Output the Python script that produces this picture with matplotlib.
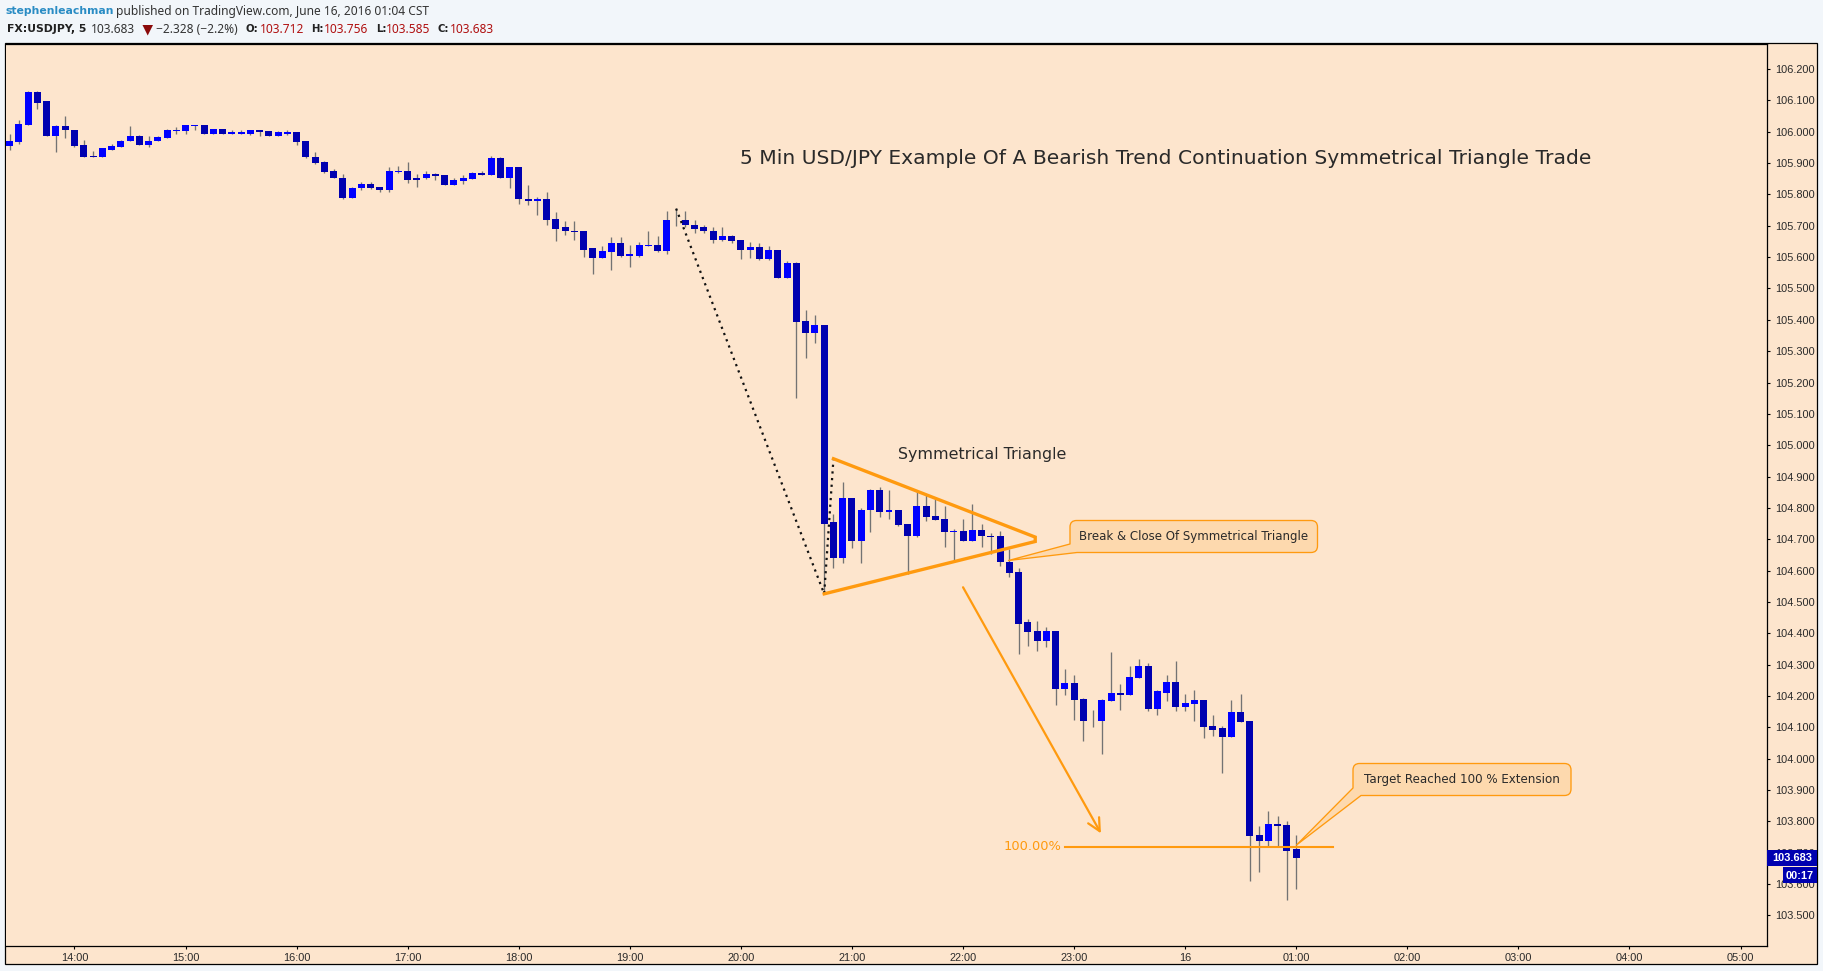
import matplotlib
matplotlib.use("Agg")
import matplotlib.pyplot as plt
from matplotlib.path import Path
from matplotlib.patches import PathPatch, Rectangle, Polygon

opens = [105.956,105.966,106.023,106.128,106.097,105.988,106.017,106.007,105.959,105.923,
 105.921,105.943,105.950,105.969,105.988,105.959,105.969,105.979,106.001,106.001,
 106.017,106.023,105.994,106.010,105.994,105.994,105.994,106.007,106.001,105.988,
 105.994,105.998,105.969,105.921,105.902,105.876,105.854,105.790,105.819,105.832,
 105.825,105.813,105.873,105.876,105.854,105.851,105.864,105.861,105.829,105.842,
 105.848,105.870,105.861,105.915,105.851,105.889,105.787,105.778,105.784,105.723,
 105.695,105.685,105.682,105.628,105.596,105.618,105.644,105.605,105.605,105.637,
 105.640,105.621,105.720,105.720,105.704,105.695,105.685,105.656,105.669,105.656,
 105.624,105.631,105.593,105.624,105.535,105.580,105.395,105.357,105.385,104.754,
 104.639,104.833,104.696,104.792,104.856,104.786,104.795,104.750,104.712,104.805,
 104.773,104.766,104.722,104.728,104.696,104.731,104.712,104.709,104.629,104.597,
 104.435,104.406,104.374,104.406,104.224,104.243,104.189,104.122,104.119,104.183,
 104.211,104.202,104.259,104.297,104.160,104.211,104.246,104.164,104.176,104.186,
 104.103,104.097,104.068,104.148,104.119,103.758,103.739,103.793,103.790,103.712]
highs = [105.993,106.036,106.131,106.131,106.097,106.023,106.049,106.007,105.975,105.940,
 105.949,105.962,105.974,106.017,105.991,105.985,105.985,106.009,106.014,106.020,
 106.023,106.023,106.010,106.010,106.007,106.007,106.007,106.007,106.001,106.001,
 106.007,105.998,105.969,105.934,105.908,105.880,105.864,105.825,105.841,105.841,
 105.825,105.886,105.892,105.902,105.864,105.876,105.870,105.861,105.851,105.861,
 105.873,105.876,105.924,105.918,105.889,105.889,105.829,105.793,105.809,105.743,
 105.714,105.714,105.682,105.628,105.637,105.663,105.663,105.640,105.647,105.682,
 105.666,105.746,105.755,105.746,105.720,105.704,105.695,105.695,105.672,105.656,
 105.647,105.644,105.634,105.624,105.589,105.583,105.430,105.414,105.385,104.781,
 104.884,104.833,104.801,104.862,104.868,104.856,104.795,104.750,104.856,104.843,
 104.830,104.805,104.734,104.766,104.814,104.750,104.719,104.725,104.668,104.607,
 104.447,104.438,104.419,104.406,104.285,104.266,104.195,104.154,104.189,104.339,
 104.237,104.297,104.317,104.304,104.218,104.266,104.313,104.208,104.218,104.186,
 104.141,104.106,104.186,104.208,104.119,103.787,103.832,103.816,103.803,103.756]
lows = [105.943,105.962,106.020,106.071,105.988,105.934,105.979,105.950,105.921,105.921,
 105.921,105.943,105.950,105.969,105.959,105.950,105.969,105.979,105.994,105.994,
 106.007,105.994,105.994,105.994,105.994,105.994,105.991,105.988,105.988,105.988,
 105.991,105.959,105.915,105.896,105.870,105.851,105.784,105.790,105.813,105.816,
 105.809,105.809,105.867,105.835,105.825,105.848,105.845,105.829,105.829,105.832,
 105.848,105.861,105.861,105.851,105.822,105.768,105.765,105.736,105.704,105.653,
 105.672,105.656,105.602,105.545,105.596,105.558,105.602,105.570,105.599,105.637,
 105.618,105.609,105.698,105.695,105.676,105.676,105.644,105.653,105.644,105.593,
 105.596,105.590,105.590,105.535,105.535,105.152,105.277,105.325,104.526,104.610,
 104.623,104.671,104.623,104.722,104.770,104.766,104.741,104.590,104.706,104.757,
 104.763,104.674,104.632,104.693,104.696,104.677,104.652,104.616,104.581,104.333,
 104.361,104.345,104.355,104.173,104.202,104.125,104.058,104.100,104.014,104.183,
 104.157,104.202,104.259,104.151,104.138,104.183,104.151,104.151,104.119,104.065,
 104.071,103.953,104.068,104.116,103.610,103.640,103.717,103.720,103.551,103.585]
closes = [105.969,106.026,106.128,106.093,105.988,106.017,106.004,105.956,105.921,105.921,
 105.947,105.953,105.972,105.988,105.959,105.972,105.982,106.004,106.004,106.020,
 106.023,105.994,106.010,105.994,105.998,105.998,106.007,105.998,105.988,105.998,
 105.998,105.966,105.918,105.899,105.873,105.851,105.790,105.822,105.832,105.822,
 105.813,105.876,105.876,105.845,105.845,105.864,105.858,105.829,105.845,105.851,
 105.870,105.861,105.915,105.851,105.889,105.784,105.778,105.784,105.720,105.691,
 105.682,105.679,105.624,105.596,105.621,105.644,105.605,105.609,105.640,105.640,
 105.621,105.720,105.717,105.701,105.691,105.682,105.656,105.669,105.653,105.624,
 105.631,105.593,105.624,105.535,105.580,105.392,105.357,105.385,104.750,104.639,
 104.833,104.696,104.795,104.856,104.786,104.795,104.747,104.712,104.805,104.770,
 104.763,104.722,104.728,104.696,104.731,104.709,104.706,104.626,104.594,104.431,
 104.403,104.374,104.406,104.224,104.243,104.186,104.119,104.119,104.186,104.211,
 104.202,104.262,104.297,104.160,104.215,104.246,104.164,104.179,104.186,104.100,
 104.093,104.068,104.148,104.116,103.755,103.739,103.793,103.787,103.707,103.683]

time_ticks = [7 + 12 * k for k in range(16)]
time_labels = ["14:00","15:00","16:00","17:00","18:00","19:00","20:00","21:00","22:00",
               "23:00","16","01:00","02:00","03:00","04:00","05:00"]
price_ticks = [103.5 + 0.1 * k for k in range(28)]

# drawing anchors (candle index, price)
swing_x = [72, 88, 89]
swing_y = [105.755, 104.526, 104.957]
tri_x = [88, 110.8, 110.8, 89]
tri_y = [104.526, 104.693, 104.707, 104.957]
arrow_from = (103.0, 104.547)
arrow_to = (117.9, 103.762)
target_x = [114, 143]
target_y = [103.719, 103.719]

UP = "#0000ff"
DOWN = "#0000b0"
WICK = "#737373"
ORANGE = "#ff9a0f"
PEACH = "#fde5cd"
CALL = "#fdd9ae"
HEAD = "#f2f6fa"

W, H = 1824, 971
fig = plt.figure(figsize=(W / 100, H / 100), dpi=100, facecolor=HEAD)

back = fig.add_axes([0, 0, 1, 1], zorder=0)
back.set_xlim(0, W); back.set_ylim(H, 0); back.axis("off")
back.add_patch(Rectangle((5.5, 43.5), 1811.5, 920.5, fc=PEACH, ec="black", lw=0.9))

L, R, T, B = 6.0, 1767.0, 43.5, 945.5
ax = fig.add_axes([L / W, 1 - B / H, (R - L) / W, (B - T) / H], zorder=1, facecolor=PEACH)
xs = list(range(len(opens)))
ax.vlines(xs, lows, highs, color=WICK, lw=0.95, zorder=2)
colors = [UP if c >= o else DOWN for o, c in zip(opens, closes)]
ax.bar(xs, [max(abs(c - o), 0.002) for o, c in zip(opens, closes)],
       bottom=[min(o, c) for o, c in zip(opens, closes)],
       width=0.756, color=colors, lw=0, zorder=3)

ax.plot(swing_x, swing_y, color="#111111", lw=1.6, ls=(0, (1, 2)), zorder=4)
ax.plot(tri_x, tri_y, color=ORANGE, lw=2.4, solid_joinstyle="miter", zorder=5)
ax.annotate("", xy=arrow_to, xytext=arrow_from,
            arrowprops=dict(arrowstyle="->,head_length=0.9,head_width=0.45", color=ORANGE,
                            lw=1.6, shrinkA=0, shrinkB=0), zorder=5)
ax.plot(target_x, target_y, color=ORANGE, lw=1.5, zorder=5)

ax.set_xlim(-0.4, 189.86)
ax.set_ylim(103.4043, 106.2815)
ax.set_xticks(time_ticks)
ax.set_xticklabels(time_labels, fontfamily="Liberation Sans", fontsize=7.9, color="#2a2a2a")
ax.yaxis.tick_right()
ax.set_yticks(price_ticks)
ax.set_yticklabels([f"{p:.3f}" for p in price_ticks], fontfamily="Liberation Sans",
                   fontsize=7.9, color="#2a2a2a")
ax.tick_params(axis="x", length=2.5, width=0.8, pad=3)
ax.tick_params(axis="y", length=2.5, width=0.8, pad=3.5)
for s in ax.spines.values():
    s.set_linewidth(0.9); s.set_color("black")
ax.spines["left"].set_visible(False)


def py(p):
    return B - (p - 103.4043) / (106.2815 - 103.4043) * (B - T)


over = fig.add_axes([0, 0, 1, 1], zorder=2)
over.patch.set_alpha(0)
over.set_xlim(0, W); over.set_ylim(H, 0); over.axis("off")


def callout(x0, y0, x1, y1, tip, j1, j2, r=6.5):
    verts = [(x0, y0 + r), (x0, y0), (x0 + r, y0), (x1 - r, y0), (x1, y0), (x1, y0 + r),
             (x1, y1 - r), (x1, y1), (x1 - r, y1), j2, tip, j1, (x0, y0 + r)]
    codes = [Path.MOVETO, Path.CURVE3, Path.CURVE3, Path.LINETO, Path.CURVE3, Path.CURVE3,
             Path.LINETO, Path.CURVE3, Path.CURVE3, Path.LINETO, Path.LINETO, Path.LINETO,
             Path.CLOSEPOLY]
    over.add_patch(PathPatch(Path(verts, codes), fc=CALL, ec=ORANGE, lw=0.95, joinstyle="round"))


callout(1070, 520.5, 1317.5, 552.5, (1008.5, 560.5), (1070, 544), (1077, 552.5))
callout(1353, 763.5, 1571, 795.5, (1296.5, 845), (1353, 788), (1361, 795.5))

body = "#2a2a2a"
over.text(1193.7, 536.5, "Break & Close Of Symmetrical Triangle", fontsize=8.5,
          fontfamily="DejaVu Sans", color=body, ha="center", va="center")
over.text(1461.5, 779, "Target Reached 100 % Extension", fontsize=8.55,
          fontfamily="DejaVu Sans", color=body, ha="center", va="center")
over.text(1166, 158, "5 Min USD/JPY Example Of A Bearish Trend Continuation Symmetrical Triangle Trade",
          fontsize=14.55, fontfamily="DejaVu Sans", color=body, ha="center", va="center")
over.text(982.5, 454, "Symmetrical Triangle", fontsize=11.4, fontfamily="DejaVu Sans",
          color=body, ha="center", va="center")
over.text(1061, 846.7, "100.00%", fontsize=9.4, fontfamily="DejaVu Sans", color=ORANGE,
          ha="right", va="center")

# last price tag and countdown
tag_y = py(closes[-1])
over.add_patch(Rectangle((1767, tag_y - 7.8), 50, 15.6, fc=DOWN, ec="none"))
over.text(1792.5, tag_y, f"{closes[-1]:.3f}", color="white", fontsize=7.9, fontweight="bold",
          fontfamily="Liberation Sans", ha="center", va="center")
over.add_patch(Rectangle((1783, tag_y + 9.2), 34, 16, fc=DOWN, ec="none"))
over.text(1800, tag_y + 17.4, "00:17", color="white", fontsize=7.9, fontweight="bold",
          fontfamily="Liberation Sans", ha="center", va="center")

# header
hf = "Noto Sans"
bf = "DejaVu Sans"
hs = 8.6
bs = 7.8
over.text(5.7, 11.5, "stephenleachman", color="#2a8cc4", fontweight="bold", fontsize=bs,
          fontfamily=bf, va="center")
over.text(116, 11.5, "published on TradingView.com, June 16, 2016 01:04 CST", color="#333333",
          fontsize=hs, fontfamily=hf, va="center")
y2 = 29.5
over.text(7.3, y2, "FX:USDJPY, 5", color="#222222", fontweight="bold", fontsize=bs, fontfamily=bf, va="center")
over.text(90.7, y2, f"{closes[-1]:.3f}", color="#333333", fontsize=hs, fontfamily=hf, va="center")
over.add_patch(Polygon([(142.5, 25), (153, 25), (147.7, 35.5)], fc="#8b0a0a", ec="none"))
over.text(156, y2, "\u22122.328 (\u22122.2%)", color="#333333", fontsize=hs, fontfamily=hf, va="center")
for lx, lab, vx, val in [(245.7, "O:", 259.5, opens[-1]), (310.8, "H:", 323.8, highs[-1]),
                         (375.8, "L:", 385.8, lows[-1]), (437.4, "C:", 450, closes[-1])]:
    over.text(lx, y2, lab, color="#222222", fontweight="bold", fontsize=7.3, fontfamily=bf, va="center")
    over.text(vx, y2, f"{val:.3f}", color="#b01010", fontsize=hs, fontfamily=hf, va="center")

fig.savefig("out.png", dpi=100, facecolor=HEAD)
